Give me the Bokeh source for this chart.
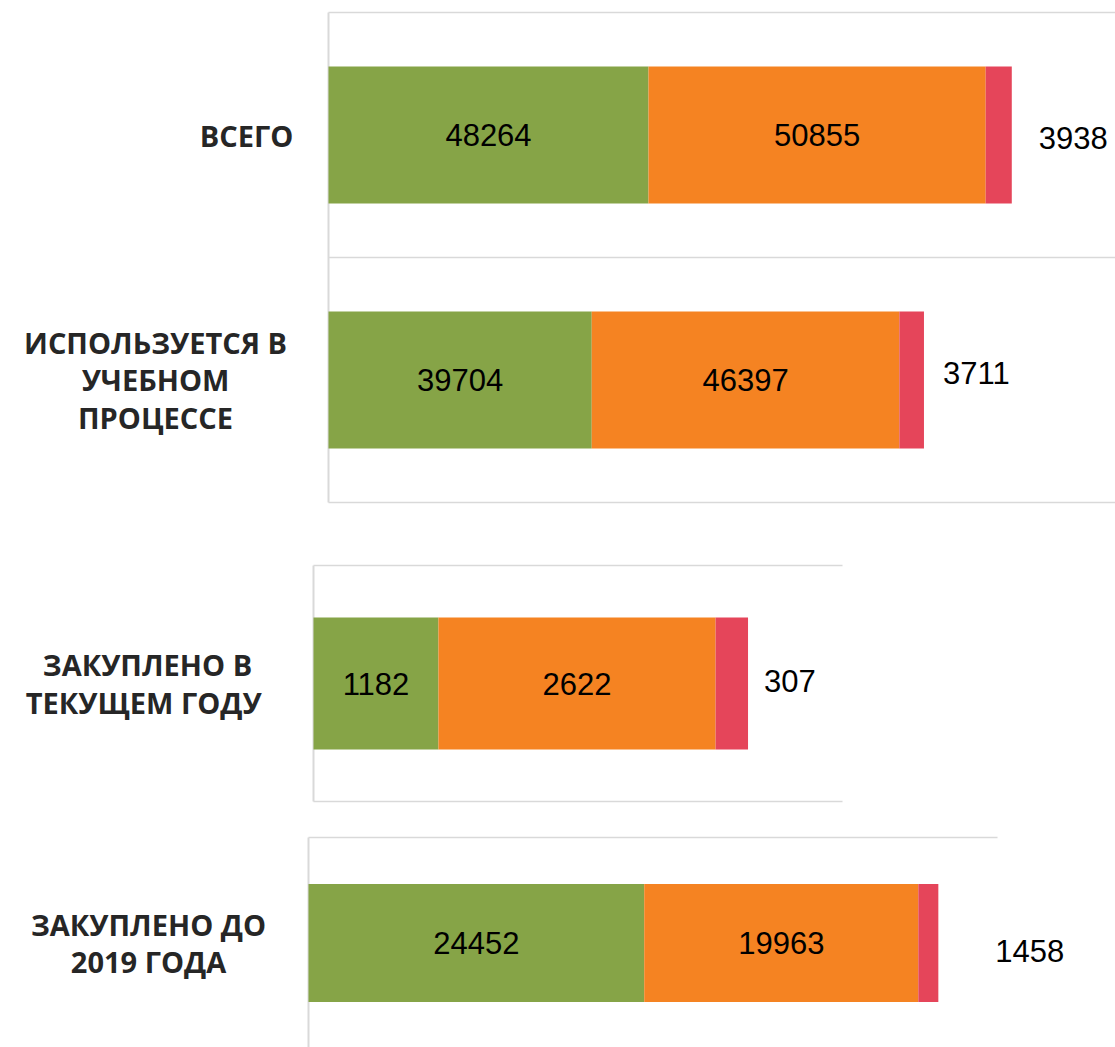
from bokeh.plotting import figure
from bokeh.layouts import column
from bokeh.models import Range1d, FixedTicker, ColumnDataSource, Grid
from bokeh.core.properties import value
from bokeh.embed import file_html
from bokeh.resources import INLINE

# ---------------- data ----------------
top_categories = ["ВСЕГО", "ИСПОЛЬЗУЕТСЯ В\nУЧЕБНОМ\nПРОЦЕССЕ"]
top_green = [48264, 39704]
top_orange = [50855, 46397]
top_red = [3938, 3711]

mid_categories = ["ЗАКУПЛЕНО В\nТЕКУЩЕМ  ГОДУ"]
mid_green = [1182]
mid_orange = [2622]
mid_red = [307]

bot_categories = ["ЗАКУПЛЕНО ДО\n2019 ГОДА"]
bot_green = [24452]
bot_orange = [19963]
bot_red = [1458]

# ---------------- styles ----------------
GREEN = "#86A447"
ORANGE = "#F58322"
RED = "#E5455A"
GRID = "#D9D9D9"
CAT_COLOR = "#262626"
BAR_H = 0.56
PAGE_W = 1115


def make_panel(cats, g, o, r, fig_top, fig_h, frame_top, row_px, left_px, line_right_px,
               ppu, cat_dx, cat_dy, red_dx, red_dy):
    n = len(cats)
    ys = [n - i - 0.5 for i in range(n)]
    y_end = n + (frame_top - fig_top) / row_px
    y_start = y_end - fig_h / row_px
    x_start = -left_px / ppu
    x_end = (PAGE_W - left_px) / ppu
    p = figure(width=PAGE_W, height=fig_h, output_backend="svg", toolbar_location=None,
               x_range=Range1d(x_start, x_end), y_range=Range1d(y_start, y_end),
               x_axis_location=None, y_axis_location=None,
               min_border_left=0, min_border_right=0,
               min_border_top=0, min_border_bottom=0)
    p.outline_line_color = None
    for gr in p.grid:
        gr.visible = False
    p.add_layout(Grid(dimension=1, ticker=FixedTicker(ticks=list(range(n + 1))),
                      cross_bounds=(0, (line_right_px - left_px) / ppu),
                      grid_line_color=GRID, grid_line_width=1.5))
    p.add_layout(Grid(dimension=0, ticker=FixedTicker(ticks=[0]),
                      cross_bounds=(0, n),
                      grid_line_color=GRID, grid_line_width=2))

    src = ColumnDataSource(dict(
        y=ys, g=g, o=o, r=r,
        gm=[gi / 2 for gi in g],
        om=[gi + oi / 2 for gi, oi in zip(g, o)],
        tot=[gi + oi + ri for gi, oi, ri in zip(g, o, r)],
        gt=[str(v) for v in g], ot=[str(v) for v in o], rt=[str(v) for v in r],
        rdx=red_dx, rdy=red_dy,
        cat=cats, cdx=cat_dx, cdy=cat_dy, zero=[0] * n,
    ))
    p.hbar_stack(["g", "o", "r"], y="y", height=BAR_H, color=[GREEN, ORANGE, RED],
                 line_color=None, source=src)
    common = dict(text_font=value("Liberation Sans"), text_font_size="31px",
                  text_color="black", text_baseline="middle")
    p.text(x="gm", y="y", text="gt", text_align="center", source=src, **common)
    p.text(x="om", y="y", text="ot", text_align="center", source=src, **common)
    p.text(x="tot", y="y", text="rt", x_offset="rdx", y_offset="rdy",
           text_align="left", source=src, **common)
    p.text(x="zero", y="y", text="cat", x_offset="cdx", y_offset="cdy",
           text_align="center", text_baseline="middle",
           text_font=value("Open Sans"), text_font_style="bold",
           text_font_size="29px", text_color=CAT_COLOR, text_line_height=0.97,
           source=src)
    return p


p1 = make_panel(top_categories, top_green, top_orange, top_red,
                fig_top=0, fig_h=530, frame_top=12, row_px=245,
                left_px=328, line_right_px=1115, ppu=320 / 48264,
                cat_dx=[-82, -173], cat_dy=[0, 0], red_dx=[27, 19], red_dy=[3, -7])
p2 = make_panel(mid_categories, mid_green, mid_orange, mid_red,
                fig_top=530, fig_h=290, frame_top=565, row_px=236,
                left_px=313, line_right_px=842, ppu=0.1057,
                cat_dx=[-166], cat_dy=[0], red_dx=[16], red_dy=[-3])
p3 = make_panel(bot_categories, bot_green, bot_orange, bot_red,
                fig_top=820, fig_h=227, frame_top=837, row_px=211,
                left_px=308, line_right_px=997, ppu=0.01373,
                cat_dx=[-160], cat_dy=[0], red_dx=[57], red_dy=[7.5])

layout = column(p1, p2, p3, spacing=0)
open("out.html", "w").write(file_html(layout, INLINE))
